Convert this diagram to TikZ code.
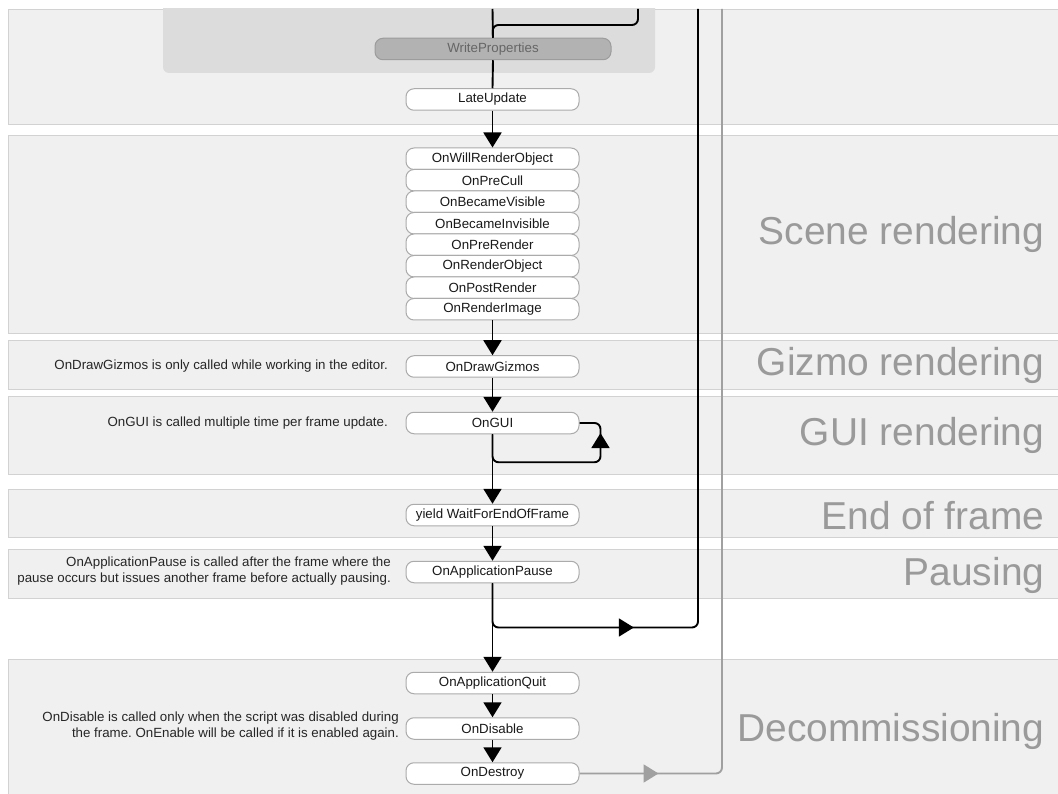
\documentclass[tikz,border=0pt]{standalone}
\usepackage{fontspec}
\setmainfont{Liberation Sans}
\usepackage{xcolor}
\usepackage{tikz}
\usetikzlibrary{calc}
\usetikzlibrary{arrows.meta}
\usetikzlibrary{decorations.markings}
\frenchspacing
\definecolor{bandbg}{HTML}{F0F0F0}
\definecolor{bandline}{HTML}{D2D2D2}
\definecolor{groupbg}{HTML}{DCDCDC}
\definecolor{callline}{HTML}{ABABAB}
\definecolor{stagegray}{HTML}{9A9A9A}
\definecolor{backgray}{HTML}{A0A0A0}
\tikzset{>={Triangle[length=15pt,width=18pt]}}
\tikzset{midarrow/.style={postaction={decorate}, decoration={markings, mark=at position #1 with {\arrow{>}}}}}
\tikzstyle{band} = [fill=bandbg, draw=bandline, line width=0.8pt]
\tikzstyle{call} = [draw=callline, fill=white, line width=1pt, rounded corners=8pt, minimum width=173pt, minimum height=21.5pt, inner sep=0, font=\fontsize{13.3}{15}\selectfont, text=black!90]
\tikzstyle{note} = [anchor=east, align=right, inner sep=0, font=\fontsize{13.3}{16}\selectfont, text=black!85]
\tikzstyle{stage} = [anchor=east, inner sep=0, font=\fontsize{38.9}{41}\selectfont, text=stagegray]
\tikzstyle{line} = [line width=1.9pt, rounded corners=6pt]
\tikzstyle{flow} = [->, line width=1.9pt, rounded corners=6pt]

\begin{document}
\begin{tikzpicture}[x=1pt, y=-1pt]
\useasboundingbox (0,0) rectangle (1058,794);

% bands
\fill [white] (0,0) rectangle (1058,794);
\draw [band] (8,9) rectangle (1064,124);
\draw [band] (8,135) rectangle (1064,333);
\draw [band] (8,340) rectangle (1064,389);
\draw [band] (8,396) rectangle (1064,474);
\draw [band] (8,489) rectangle (1064,537);
\draw [band] (8,549) rectangle (1064,598);
\draw [band] (8,659) rectangle (1064,800);
\begin{scope}
\clip (0,9) rectangle (1058,794);
\fill [groupbg, rounded corners=6pt] (163,-10) rectangle (655,73);
\end{scope}

% stage labels
\node [stage] (scenelbl) at (1044.5,234) {Scene rendering};
\node [stage] (gizmolbl) at (1044.5,365) {Gizmo rendering};
\node [stage] (guilbl) at (1044.5,435) {GUI rendering};
\node [stage] (endlbl) at (1044.5,516) {End of frame};
\node [stage] (pauselbl) at (1044.5,575) {Pausing};
\node [stage] (decomlbl) at (1044.5,731) {Decommissioning};

% calls
\node [call, minimum width=236pt, fill=black!30, draw=black!39, text=black!60] (writeprops) at (493,49) {WriteProperties};
\node [call] (late) at (492.5,99.5) {LateUpdate};
\node [call] (willrender) at (492.5,158.75) {OnWillRenderObject};
\node [call] (precull) at (492.5,180.25) {OnPreCull};
\node [call] (visible) at (492.5,201.75) {OnBecameVisible};
\node [call] (invisible) at (492.5,223.25) {OnBecameInvisible};
\node [call] (prerender) at (492.5,244.75) {OnPreRender};
\node [call] (renderobj) at (492.5,266.25) {OnRenderObject};
\node [call] (postrender) at (492.5,287.75) {OnPostRender};
\node [call] (renderimage) at (492.5,309.25) {OnRenderImage};
\node [call] (gizmos) at (492.5,366.5) {OnDrawGizmos};
\node [call] (gui) at (492.5,423) {OnGUI};
\node [call] (endframe) at (492.5,515) {yield WaitForEndOfFrame};
\node [call] (pause) at (492.5,572) {OnApplicationPause};
\node [call] (quit) at (492.5,683) {OnApplicationQuit};
\node [call] (disable) at (492.5,728.5) {OnDisable};
\node [call] (destroy) at (492.5,773.5) {OnDestroy};

% notes
\node [note] (gizmonote) at (388,366.5) {OnDrawGizmos is only called while working in the editor.};
\node [note] (guinote) at (388,423) {OnGUI is called multiple time per frame update.};
\node [note] (pausenote) at (391,571) {OnApplicationPause is called after the frame where the\\pause occurs but issues another frame before actually pausing.};
\node [note] (disablenote) at (399,726) {OnDisable is called only when the script was disabled during\\the frame. OnEnable will be called if it is enabled again.};

% free ends at the top
\coordinate (top1) at (492.5,9);
\coordinate (top2) at (638,9);
\coordinate (top3) at (698,9);
\coordinate (top4) at (722,9);

% connectors
\draw [line] (top1) -- (writeprops.north);
\draw [line] (top2) -- (638,25) -- (492.5,25) -- (writeprops.north);
\draw [line] (writeprops.south) -- (late.north);
\draw [flow] (late) -- (willrender);
\draw [flow] (renderimage) -- (gizmos);
\draw [flow] (gizmos) -- (gui);
\draw [line, midarrow=160pt] (gui.south) -- ++(0,28) -- ++(108,0) |- (gui.east);
\draw [flow] (gui) -- (endframe);
\draw [flow] (endframe) -- (pause);
\draw [flow] (pause) -- (quit);
\draw [line, midarrow=183pt] (pause.south) -- ++(0,44.25) -| (top3);
\draw [flow] (quit) -- (disable);
\draw [flow] (disable) -- (destroy);
\draw [line, draw=backgray, midarrow=79pt] (destroy.east) -| (top4);
\end{tikzpicture}
\end{document}
